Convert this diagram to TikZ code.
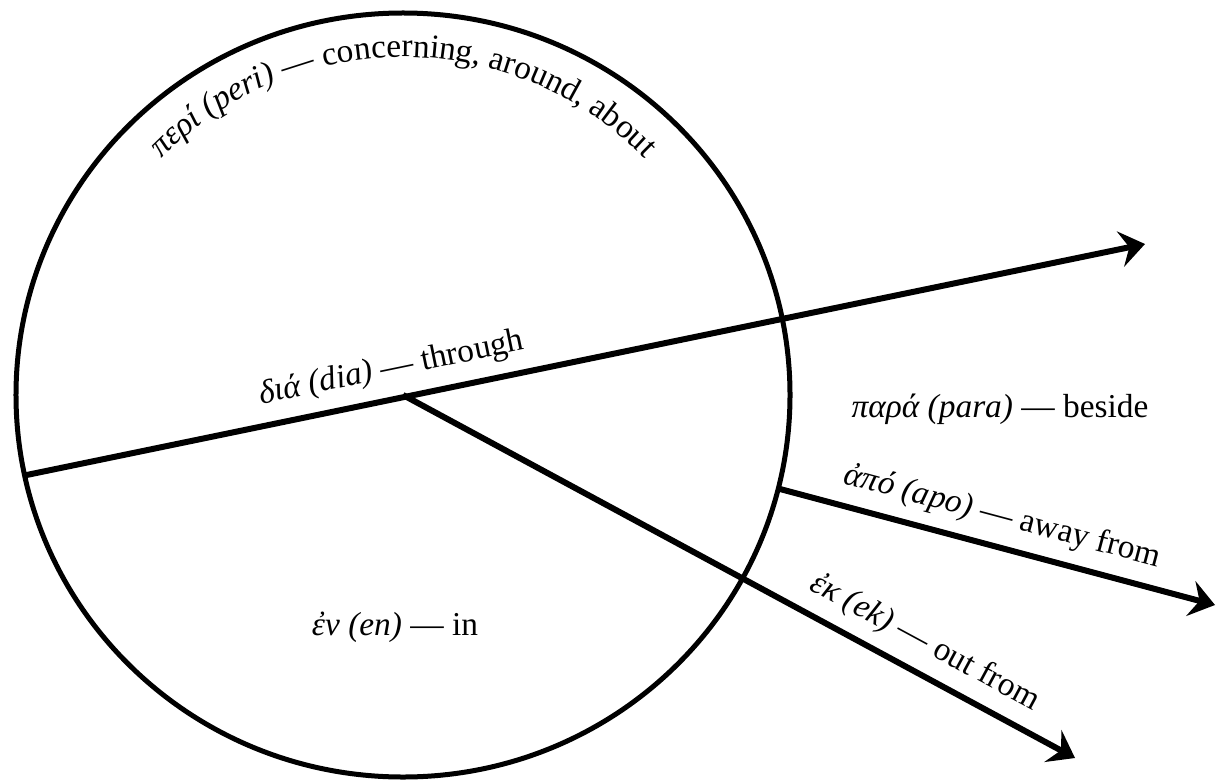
\documentclass[tikz,border=0pt]{standalone}
\usepackage{fontspec}
\setmainfont{Liberation Serif}
\usetikzlibrary{arrows.meta, shapes.geometric, decorations.text}

\begin{document}
\begin{tikzpicture}[x=0.2mm, y=-0.2mm,
          >={Stealth[length=5mm, width=7.2mm, inset=1.8mm]},
          every node/.style={font=\fontsize{19}{22}\selectfont},
          ray/.style={line width=1.2mm, ->},
          lbl/.style={sloped, anchor=base, yshift=4.4mm}]
        \useasboundingbox (0,0) rectangle (1230,779);
        \node[ellipse, draw, line width=1mm, inner sep=0pt, outer sep=0pt,
              minimum width=154.8mm, minimum height=152.8mm] (orb) at (403,395) {};
        \coordinate (diaEnd) at (1145,244);
        \coordinate (ekEnd)  at (1075,758);
        \coordinate (apoEnd) at (1215,605);
        \draw[ray] (orb.192) -- node[lbl, pos=0.333] {{\itshape διά (dia)} — through} (diaEnd);
        \draw[ray] (orb.center) -- node[lbl, pos=0.755] {{\itshape ἐκ (ek)} — out from} (ekEnd);
        \draw[ray] (orb.-14) -- node[lbl, pos=0.495] {{\itshape ἀπό (apo)} — away from} (apoEnd);
        \node[anchor=base] (para) at (1000,417) {{\itshape παρά (para)} — beside};
        \node[anchor=base] (en)   at (395,635)  {{\itshape ἐν (en)} — in};
        % curved label along the top of the circle
        \path[decorate, decoration={text along path, text align=center,
              text={|\fontsize{19}{22}\selectfont\itshape|περί (peri) |\fontsize{19}{22}\selectfont\upshape|— concerning, around, about}}]
              (orb.center) ++(-140:338) arc[start angle=-140, end angle=-40, radius=338];
      \end{tikzpicture}
\end{document}
